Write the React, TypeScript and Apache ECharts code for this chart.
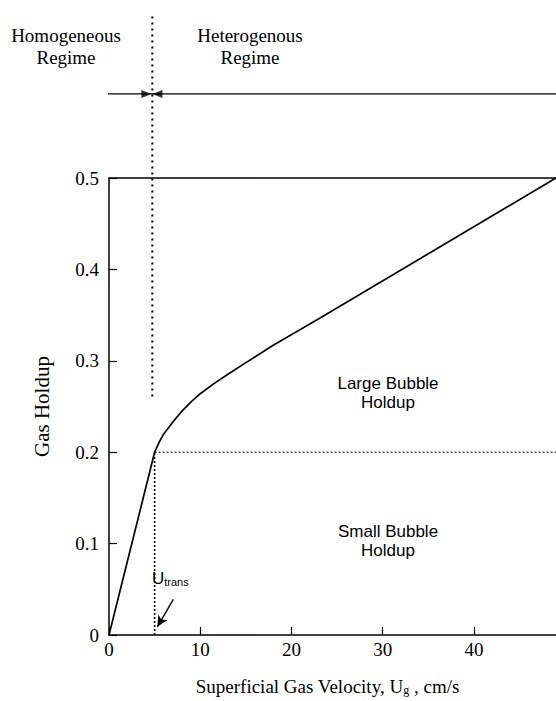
import React, { useEffect, useRef } from "react";
import * as echarts from "echarts";

// Gas holdup curve (x: superficial gas velocity, cm/s; y: gas holdup)
const holdupCurve: [number, number][] = [
  [0, 0],
  [5, 0.2],
  [5.5, 0.211],
  [6, 0.22],
  [7, 0.233],
  [8, 0.245],
  [9, 0.255],
  [10, 0.264],
  [11.5, 0.275],
  [13, 0.285],
  [15, 0.298],
  [18, 0.317],
  [23, 0.346],
  [49, 0.5],
];
const transitionUpper: [number, number][] = [
  [4.75, 0.261],
  [4.75, 0.679],
];
const transitionLower: [number, number][] = [
  [5, 0],
  [5, 0.2],
];
const smallBubbleLine: [number, number][] = [
  [5, 0.2],
  [49, 0.2],
];
const regimeLine: [number, number][] = [
  [-0.66, 0.592],
  [49, 0.592],
];
const regimeArrowRight: [number, number][] = [[4.1, 0.592]];
const regimeArrowLeft: [number, number][] = [[5.3, 0.592]];
const uTransArrowFrom: [number, number] = [7.05, 0.039];
const uTransArrowTo: [number, number] = [5.3, 0.009];
const xTicks = [0, 10, 20, 30, 40];
const yTicks = [0, 0.1, 0.2, 0.3, 0.4, 0.5];

const SERIF = "'Liberation Serif', 'Times New Roman', serif";
const SANS = "'Liberation Sans', Arial, sans-serif";

export default function App() {
  const ref = useRef<HTMLDivElement>(null);
  useEffect(() => {
    if (!ref.current) return;
    const chart = echarts.init(ref.current, undefined, { renderer: "svg" });
    const black = "#000";
    chart.setOption({
      animation: false,
      backgroundColor: "#fff",
      grid: { left: 109, right: 0, top: 178, bottom: 62 },
      xAxis: [
        {
          type: "value",
          min: 0,
          max: 49,
          interval: 10,
          position: "bottom",
          name: "Superficial Gas Velocity, U{sub|g} , cm/s",
          nameLocation: "middle",
          nameGap: 41,
          nameTextStyle: {
            fontFamily: SERIF,
            fontSize: 19,
            color: black,
            padding: [0, 10, 0, 0],
            rich: {
              sub: { fontFamily: SERIF, fontSize: 12, color: black, verticalAlign: "bottom", padding: [8, 0, 0, 0] },
            },
          },
          axisLine: { show: true, lineStyle: { color: black, width: 1.5 } },
          axisTick: { show: true, inside: true, length: 8, lineStyle: { color: black, width: 1.2 } },
          axisLabel: {
            show: true,
            showMaxLabel: false,
            margin: 5,
            fontFamily: SERIF,
            fontSize: 19,
            color: black,
            formatter: (v: number) => (xTicks.includes(v) ? String(v) : ""),
          },
          splitLine: { show: false },
        },
        {
          type: "value",
          min: 0,
          max: 49,
          position: "top",
          axisLine: { show: true, lineStyle: { color: black, width: 1.5 } },
          axisTick: { show: false },
          axisLabel: { show: false },
          splitLine: { show: false },
        },
      ],
      yAxis: {
        type: "value",
        min: 0,
        max: 0.5,
        interval: 0.1,
        name: "Gas Holdup",
        nameLocation: "middle",
        nameRotate: 90,
        nameGap: 57,
        nameTextStyle: { fontFamily: SERIF, fontSize: 21, color: black },
        axisLine: { show: true, lineStyle: { color: black, width: 1.5 } },
        axisTick: { show: true, inside: true, length: 8, lineStyle: { color: black, width: 1.2 } },
        axisLabel: {
          margin: 10,
          fontFamily: SERIF,
          fontSize: 19,
          color: black,
          formatter: (v: number) => {
            const t = yTicks.find((y) => Math.abs(y - v) < 1e-9);
            if (t === undefined) return "";
            return t === 0 ? "0" : t.toFixed(1);
          },
        },
        splitLine: { show: false },
      },
      series: [
        {
          type: "line",
          data: holdupCurve,
          symbol: "none",
          lineStyle: { color: black, width: 1.7 },
          silent: true,
          markLine: {
            silent: true,
            symbol: ["none", "arrow"],
            symbolSize: [8, 11],
            label: { show: false },
            lineStyle: { color: black, width: 1.4, type: "solid" },
            data: [[{ coord: uTransArrowFrom }, { coord: uTransArrowTo }]],
          },
        },
        {
          type: "line",
          data: transitionUpper,
          symbol: "none",
          clip: false,
          lineStyle: { color: black, width: 2, type: [2, 4] },
          silent: true,
        },
        {
          type: "line",
          data: transitionLower,
          symbol: "none",
          lineStyle: { color: black, width: 1.6, type: [2, 2] },
          silent: true,
        },
        {
          type: "line",
          data: smallBubbleLine,
          symbol: "none",
          lineStyle: { color: black, width: 1, type: [2, 2] },
          silent: true,
        },
        {
          type: "line",
          data: regimeLine,
          symbol: "none",
          clip: false,
          lineStyle: { color: black, width: 1.3 },
          silent: true,
        },
        {
          type: "scatter",
          data: regimeArrowRight,
          clip: false,
          symbol: "triangle",
          symbolSize: [8, 10],
          symbolRotate: -90,
          itemStyle: { color: black },
          silent: true,
        },
        {
          type: "scatter",
          data: regimeArrowLeft,
          clip: false,
          symbol: "triangle",
          symbolSize: [8, 10],
          symbolRotate: 90,
          itemStyle: { color: black },
          silent: true,
        },
      ],
      graphic: [
        {
          type: "text",
          x: 66,
          y: 24,
          style: { text: "Homogeneous\nRegime", fontFamily: SERIF, fontSize: 19, lineHeight: 22, fill: black, align: "center" },
        },
        {
          type: "text",
          x: 250,
          y: 24,
          style: { text: "Heterogenous\nRegime", fontFamily: SERIF, fontSize: 19, lineHeight: 22, fill: black, align: "center" },
        },
        {
          type: "text",
          x: 388,
          y: 374,
          style: { text: "Large Bubble\nHoldup", fontFamily: SANS, fontSize: 17, lineHeight: 19, fill: black, align: "center" },
        },
        {
          type: "text",
          x: 388,
          y: 522,
          style: { text: "Small Bubble\nHoldup", fontFamily: SANS, fontSize: 17, lineHeight: 19, fill: black, align: "center" },
        },
        {
          type: "text",
          x: 152,
          y: 570,
          style: {
            text: "{u|U}{s|trans}",
            rich: {
              u: { fontFamily: SANS, fontSize: 17, fill: black, verticalAlign: "bottom" },
              s: { fontFamily: SANS, fontSize: 11, fill: black, verticalAlign: "bottom", padding: [6, 0, 0, 0] },
            },
          },
        },
      ],
    });
    return () => chart.dispose();
  }, []);
  return (
    <div
      ref={ref}
      style={{ position: "fixed", left: 0, top: 0, width: 556, height: 701, background: "#fff" }}
    />
  );
}
